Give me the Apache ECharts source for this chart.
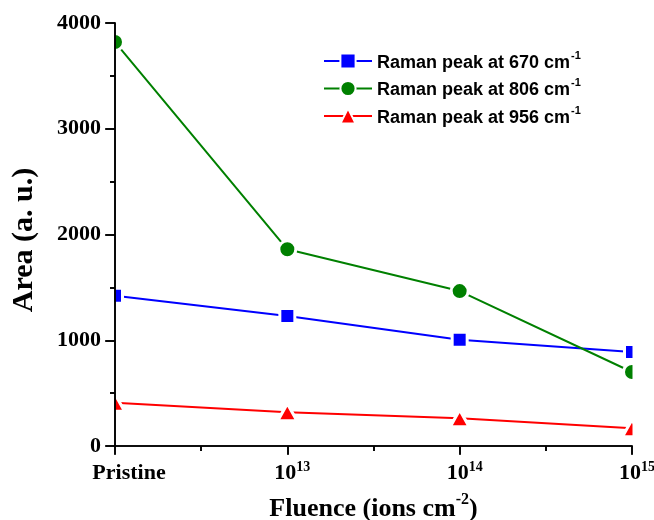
<!DOCTYPE html>
<html>
<head>
<meta charset="utf-8">
<script src="https://cdn.jsdelivr.net/npm/echarts@6/dist/echarts.min.js"></script>
<style>
  html, body { margin: 0; padding: 0; background: #fff; }
  #chart { width: 654px; height: 520px; }
</style>
</head>
<body>
<div id="chart"></div>
<script>
// ---- data ----
var categories = ['Pristine', '10^13', '10^14', '10^15'];
var seriesNames = ['Raman peak at 670 cm', 'Raman peak at 806 cm', 'Raman peak at 956 cm'];
var nameSuperscript = '-1';
var peak670 = [1420, 1230, 1005, 890];
var peak806 = [3820, 1860, 1465, 700];
var peak956 = [410, 320, 262, 168];
var yTicks = { min: 0, max: 4000, interval: 1000 };

var SERIF = '"Liberation Serif", "Times New Roman", serif';
var SANS = '"Liberation Sans", Arial, sans-serif';

function pairs(arr) { return arr.map(function (v, i) { return [i, v]; }); }

function xLabel(val) {
  var c = categories[Math.round(val)];
  if (c === undefined) return '';
  if (c.indexOf('^') >= 0) {
    var p = c.split('^');
    return '{b|' + p[0] + '}{sup|' + p[1] + '}';
  }
  return '{p|' + c + '}';
}

var chart = echarts.init(document.getElementById('chart'), null, { renderer: 'canvas' });

var axisCommonLine = { show: true, lineStyle: { color: '#000', width: 1.6 } };

var option = {
  animation: false,
  backgroundColor: '#fff',
  grid: { left: 115, right: 22, top: 23, bottom: 74, containLabel: false, outerBoundsMode: 'none' },
  legend: {
    orient: 'vertical',
    left: 323,
    top: 50,
    padding: 0,
    itemWidth: 48,
    itemHeight: 19,
    itemGap: 5.5,
    data: seriesNames,
    formatter: function (name) { return '{n|' + name + '}{s|' + nameSuperscript + '}'; },
    textStyle: {
      rich: {
        n: { fontFamily: SANS, fontWeight: 'bold', fontSize: 18, color: '#000', lineHeight: 22, verticalAlign: 'bottom' },
        s: { fontFamily: SANS, fontWeight: 'bold', fontSize: 11, color: '#000', lineHeight: 22, verticalAlign: 'top', padding: [0, 0, 0, 1] }
      }
    }
  },
  xAxis: [
    {
      type: 'value', min: 0, max: 3, interval: 1, position: 'bottom', z: 10,
      axisLine: axisCommonLine,
      axisTick: { show: true, inside: false, length: 8, lineStyle: { color: '#000', width: 1.6 } },
      minorTick: { show: true, splitNumber: 2, length: 5, lineStyle: { color: '#000', width: 1.6 } },
      splitLine: { show: false },
      axisLabel: {
        margin: 14,
        formatter: xLabel,
        rich: {
          p: { fontFamily: SERIF, fontWeight: 'bold', fontSize: 22, color: '#000', lineHeight: 24, verticalAlign: 'bottom', padding: [0, 0, 0, 28] },
          b: { fontFamily: SERIF, fontWeight: 'bold', fontSize: 22, color: '#000', lineHeight: 24, verticalAlign: 'bottom', padding: [0, 0, 0, 10] },
          sup: { fontFamily: SERIF, fontWeight: 'bold', fontSize: 14, color: '#000', lineHeight: 24, verticalAlign: 'top' }
        }
      },
      name: '{t|Fluence (ions cm}{ts|-2}{t|)}',
      nameLocation: 'middle',
      nameGap: 46,
      nameTextStyle: {
        rich: {
          t: { fontFamily: SERIF, fontWeight: 'bold', fontSize: 26, color: '#000', lineHeight: 30, verticalAlign: 'bottom' },
          ts: { fontFamily: SERIF, fontWeight: 'bold', fontSize: 16, color: '#000', lineHeight: 30, verticalAlign: 'top' }
        }
      }
    },
    {
      type: 'value', min: 0, max: 3, interval: 1, position: 'top', z: 10,
      axisLine: axisCommonLine,
      axisTick: { show: true, inside: true, length: 9, lineStyle: { color: '#000', width: 1.6 } },
      minorTick: { show: true, splitNumber: 2, length: 5, lineStyle: { color: '#000', width: 1.6 } },
      splitLine: { show: false },
      axisLabel: { show: false }
    }
  ],
  yAxis: [
    {
      type: 'value', min: yTicks.min, max: yTicks.max, interval: yTicks.interval, position: 'left', z: 10,
      axisLine: axisCommonLine,
      axisTick: { show: true, inside: false, length: 10, lineStyle: { color: '#000', width: 1.6 } },
      minorTick: { show: true, splitNumber: 2, length: 5, lineStyle: { color: '#000', width: 1.6 } },
      splitLine: { show: false },
      axisLabel: { margin: 14, fontFamily: SERIF, fontWeight: 'bold', fontSize: 22, color: '#000',
                   formatter: function (v) { return String(v); } }
    },
    {
      type: 'value', min: yTicks.min, max: yTicks.max, interval: yTicks.interval, position: 'right', z: 10,
      axisLine: axisCommonLine,
      axisTick: { show: true, inside: true, length: 9, lineStyle: { color: '#000', width: 1.6 } },
      minorTick: { show: true, splitNumber: 2, length: 5, lineStyle: { color: '#000', width: 1.6 } },
      splitLine: { show: false },
      axisLabel: { show: false }
    }
  ],
  graphic: [
    { type: 'rect', z: 5, silent: true, shape: { x: 0, y: 0, width: 114.5, height: 447 }, style: { fill: '#fff' } },
    { type: 'rect', z: 5, silent: true, shape: { x: 632.5, y: 0, width: 30, height: 447 }, style: { fill: '#fff' } },
    {
      type: 'text', z: 11, x: 24, y: 240, rotation: Math.PI / 2, silent: true,
      style: { text: 'Area (a. u.)', x: 0, y: 0, textAlign: 'center', textVerticalAlign: 'middle',
               fontFamily: SERIF, fontWeight: 'bold', fontSize: 30, fill: '#000' }
    }
  ],
  series: [
    {
      name: seriesNames[0], type: 'line', xAxisIndex: 0, yAxisIndex: 0, clip: false, z: 2,
      data: pairs(peak670), symbol: 'rect', symbolSize: 15,
      lineStyle: { color: '#0000ff', width: 2 },
      itemStyle: { color: '#0000ff', borderColor: '#fff', borderWidth: 3 }
    },
    {
      name: seriesNames[1], type: 'line', xAxisIndex: 0, yAxisIndex: 0, clip: false, z: 2,
      data: pairs(peak806), symbol: 'circle', symbolSize: 17,
      lineStyle: { color: '#008000', width: 2 },
      itemStyle: { color: '#008000', borderColor: '#fff', borderWidth: 3 }
    },
    {
      name: seriesNames[2], type: 'line', xAxisIndex: 0, yAxisIndex: 0, clip: false, z: 2,
      data: pairs(peak956), symbol: 'triangle', symbolSize: [19, 17],
      lineStyle: { color: '#ff0000', width: 2 },
      itemStyle: { color: '#ff0000', borderColor: '#fff', borderWidth: 3 }
    }
  ]
};

chart.setOption(option);
</script>
</body>
</html>
